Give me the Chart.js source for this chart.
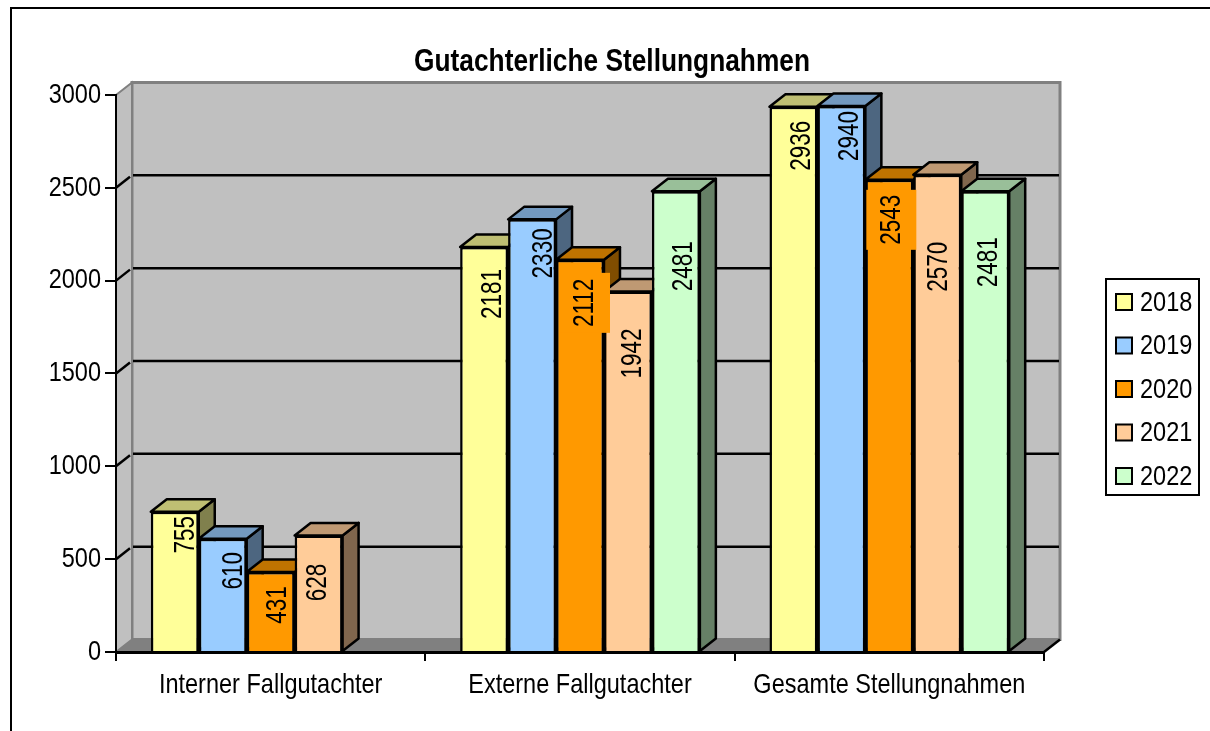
<!DOCTYPE html>
<html>
<head>
<meta charset="utf-8">
<title>Gutachterliche Stellungnahmen</title>
<style>
  html, body { margin: 0; padding: 0; background: #fff; }
  #wrap { width: 1210px; height: 731px; }
</style>
<script src="https://cdn.jsdelivr.net/npm/chart.js@4/dist/chart.umd.min.js"></script>
</head>
<body>
<div id="wrap"><canvas id="myChart" width="1210" height="731"></canvas></div>
<script>
const categories = ["Interner Fallgutachter", "Externe Fallgutachter", "Gesamte Stellungnahmen"];
const years = ["2018", "2019", "2020", "2021", "2022"];
const values2018 = [755, 2181, 2936];
const values2019 = [610, 2330, 2940];
const values2020 = [431, 2112, 2543];
const values2021 = [628, 1942, 2570];
const values2022 = [null, 2481, 2481];
const yMax = 3000;
const yStep = 500;

const frontColors = ["#FFFF99", "#99CCFF", "#FF9900", "#FFCC99", "#CCFFCC"];
const topColors = ["#BFBF73", "#7399BF", "#BF7300", "#BF9973", "#99BF99"];
const sideColors = ["#80804D", "#4D6680", "#804D00", "#80664D", "#668066"];

// where the value labels sit, relative to bar centre and bar top
const labelDx = [[9, 7, 6], [9, 10, 6], [5, 3, 0], [-3, 3, -1], [0, 6, 2]];
const labelDy = [[23, 47, 39], [32, 34, 30], [33, 43, 40], [47, 62, 92], [0, 75, 71]];

const fontName = '"Liberation Sans", Arial, sans-serif';
const depthX = 16;
const depthY = 12.5;

// the reference text is narrower than Liberation Sans, so squeeze it along its baseline
const canvas = document.getElementById("myChart");
const context = canvas.getContext("2d");
const plainFillText = context.fillText.bind(context);
let textSqueeze = 0.84;
context.fillText = function (text, x, y) {
  context.save();
  context.translate(x, y);
  context.scale(textSqueeze, 1);
  plainFillText(text, 0, 0);
  context.restore();
};

function polygon(ctx, pts, fill, stroke, width) {
  ctx.beginPath();
  ctx.moveTo(pts[0][0], pts[0][1]);
  for (let i = 1; i < pts.length; i++) ctx.lineTo(pts[i][0], pts[i][1]);
  ctx.closePath();
  if (fill) {
    ctx.fillStyle = fill;
    ctx.fill();
  }
  if (stroke) {
    ctx.strokeStyle = stroke;
    ctx.lineWidth = width;
    ctx.stroke();
  }
}

function line(ctx, x1, y1, x2, y2, color, width) {
  ctx.beginPath();
  ctx.moveTo(x1, y1);
  ctx.lineTo(x2, y2);
  ctx.strokeStyle = color;
  ctx.lineWidth = width;
  ctx.stroke();
}

function drawBarDepth(ctx, meta, i, data) {
  ctx.save();
  ctx.lineJoin = "round";
  meta.data.forEach((bar, j) => {
    if (data[j] === null) return;
    const p = bar.getProps(["x", "y", "base", "width"]);
    const left = p.x - p.width / 2;
    const right = p.x + p.width / 2;
    polygon(ctx, [[right, p.y], [right + depthX, p.y - depthY], [right + depthX, p.base - depthY], [right, p.base]], sideColors[i], "#000", 2.5);
    polygon(ctx, [[left, p.y], [left + depthX, p.y - depthY], [right + depthX, p.y - depthY], [right, p.y]], topColors[i], "#000", 2.5);
  });
  ctx.restore();
}

function drawValueLabels(chart) {
  const ctx = chart.ctx;
  ctx.save();
  ctx.font = "30px " + fontName;
  ctx.textAlign = "center";
  ctx.textBaseline = "middle";
  textSqueeze = 0.75;
  chart.data.datasets.forEach((ds, i) => {
    chart.getDatasetMeta(i).data.forEach((bar, j) => {
      if (ds.data[j] === null) return;
      const p = bar.getProps(["x", "y"]);
      const cx = p.x + labelDx[i][j];
      const cy = p.y + labelDy[i][j];
      // the four-digit 2020 labels carry a fill in the bar colour that spills over its edge
      if (i === 2 && j > 0) {
        ctx.fillStyle = frontColors[i];
        ctx.fillRect(cx - 23, cy - 30, 50, 60);
      }
      ctx.save();
      ctx.translate(cx, cy);
      ctx.rotate(-Math.PI / 2);
      ctx.fillStyle = "#000";
      ctx.fillText(String(ds.data[j]), 0, 2);
      ctx.restore();
    });
  });
  textSqueeze = 0.84;
  ctx.restore();
}

const chartDressing = {
  id: "chartDressing",
  // frame, 3d walls, floor, gridlines and the legend box
  beforeDraw(chart) {
    const ctx = chart.ctx;
    const area = chart.chartArea;
    const y = chart.scales.y;
    ctx.save();
    ctx.fillStyle = "#fff";
    ctx.fillRect(0, 0, chart.width, chart.height);
    ctx.strokeStyle = "#000";
    ctx.lineWidth = 2;
    ctx.strokeRect(11, 8, 1300, 800);

    const l = area.left, r = area.right, t = area.top, b = area.bottom;
    polygon(ctx, [[l + depthX, t - depthY], [r + depthX, t - depthY], [r + depthX, b - depthY], [l + depthX, b - depthY]], "#C0C0C0", "#808080", 3);
    polygon(ctx, [[l, t], [l + depthX, t - depthY], [l + depthX, b - depthY], [l, b]], "#C0C0C0", "#808080", 2);
    polygon(ctx, [[l, b], [l + depthX, b - depthY], [r + depthX, b - depthY], [r, b]], "#808080", null, 0);
    for (let v = yStep; v < yMax; v += yStep) {
      const py = y.getPixelForValue(v);
      line(ctx, l, py, l + depthX - 2, py - depthY + 1.5, "#000", 2.5);
      line(ctx, l + depthX + 1, py - depthY, r + depthX - 1, py - depthY, "#000", 2.5);
    }
    line(ctx, r, b, r + depthX, b - depthY, "#000", 2.5);

    // legend
    ctx.lineWidth = 2;
    ctx.strokeStyle = "#000";
    ctx.strokeRect(1106, 279, 93, 216);
    ctx.font = "28px " + fontName;
    ctx.textBaseline = "middle";
    chart.data.datasets.forEach((ds, i) => {
      const rowY = 302 + i * 43.5;
      ctx.fillStyle = ds.backgroundColor;
      ctx.fillRect(1116, rowY - 8, 16, 16);
      ctx.strokeRect(1116, rowY - 8, 16, 16);
      ctx.fillStyle = "#000";
      ctx.fillText(ds.label, 1140, rowY + 1);
    });
    ctx.restore();

    chart.titleBlock.left = 14;
    chart.titleBlock.right = chart.width;
  },
  // left to right, each bar after its depth faces, so a bar hides the side of the one before it
  beforeDatasetsDraw(chart) {
    chart.data.datasets.forEach((ds, i) => {
      const meta = chart.getDatasetMeta(i);
      drawBarDepth(chart.ctx, meta, i, ds.data);
      meta.controller.draw();
    });
    drawValueLabels(chart);
    return false;
  },
};

const seriesValues = [values2018, values2019, values2020, values2021, values2022];

new Chart(canvas, {
  type: "bar",
  data: {
    labels: categories,
    datasets: years.map((year, i) => ({
      label: year,
      data: seriesValues[i],
      backgroundColor: frontColors[i],
      borderColor: "#000",
      borderWidth: 2.5,
      categoryPercentage: 0.775,
      barPercentage: 1,
    })),
  },
  options: {
    responsive: false,
    animation: false,
    layout: { padding: { left: 0, right: 166, top: 0, bottom: 0 } },
    plugins: {
      legend: { display: false },
      tooltip: { enabled: false },
      title: {
        display: true,
        text: "Gutachterliche Stellungnahmen",
        color: "#000",
        font: { family: fontName, size: 31.3, weight: "bold", lineHeight: 1.2 },
        padding: { top: 43.4, bottom: 14 },
      },
    },
    scales: {
      x: {
        afterFit(scale) { scale.height = 79; },
        border: { color: "#000", width: 3 },
        grid: { offset: true, drawOnChartArea: false, color: "#000", tickColor: "#000", tickWidth: 2, tickLength: 9, lineWidth: 2 },
        ticks: { color: "#000", padding: 7, font: { family: fontName, size: 28 }, maxRotation: 0, autoSkip: false },
      },
      y: {
        min: 0,
        max: yMax,
        afterFit(scale) { scale.width = 116; },
        border: { color: "#000", width: 2 },
        grid: { drawOnChartArea: false, color: "#000", tickColor: "#000", tickWidth: 2, tickLength: 11, lineWidth: 2 },
        ticks: { stepSize: yStep, color: "#000", padding: 4, font: { family: fontName, size: 28 }, callback: (v) => String(v) },
      },
    },
  },
  plugins: [chartDressing],
});
</script>
</body>
</html>
